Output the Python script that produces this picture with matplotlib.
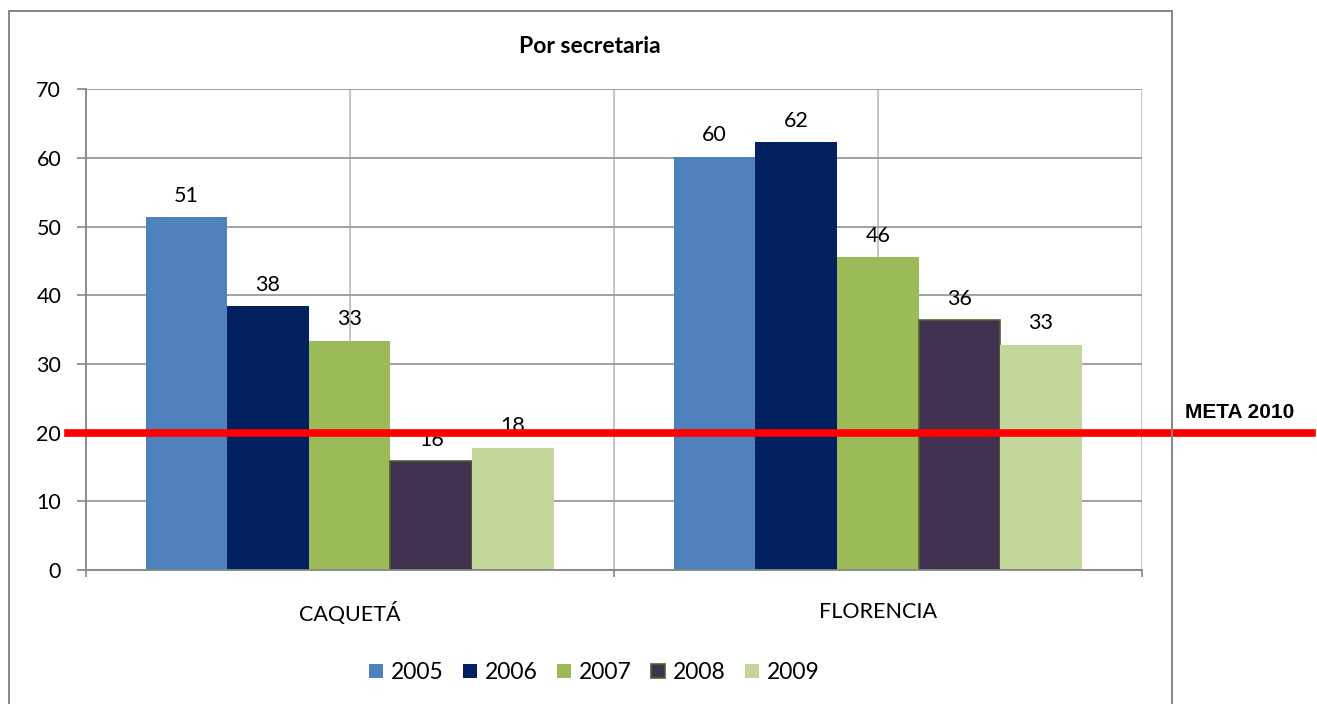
import matplotlib.pyplot as plt
import numpy as np
from matplotlib.patches import Rectangle
from matplotlib.transforms import blended_transform_factory


categories = ["CAQUETÁ", "FLORENCIA"]
years = ["2005", "2006", "2007", "2008", "2009"]
v2005 = [51.4, 60.2]
v2006 = [38.4, 62.3]
v2007 = [33.4, 45.6]
v2008 = [15.9, 36.4]
v2009 = [17.8, 32.8]
meta_2010 = 20
y_ticks = [0, 10, 20, 30, 40, 50, 60, 70]

series = [v2005, v2006, v2007, v2008, v2009]
COLORS = ("#4f81bd", "#002060", "#9bbb59", "#403151", "#c3d69b")
EDGES = ("none", "none", "none", "#4f6228", "none")
GRAY = "#868686"

plt.rcParams["font.family"] = ["Lato", "DejaVu Sans"]

fig = plt.figure(figsize=(13.17, 7.04), dpi=100)
ax = fig.add_axes([85.5 / 1317, 134 / 704, 1056.5 / 1317, 480.7 / 704])

x = np.arange(len(categories))
width = 0.1545
for i, (vals, color, edge) in enumerate(zip(series, COLORS, EDGES)):
    pos = x + (i - 2) * width
    ax.bar(pos, vals, width, color=color, edgecolor=edge,
           linewidth=1.2 if edge != "none" else 0, label=years[i], zorder=3)
    for px, v in zip(pos, vals):
        ax.annotate(f"{v:.0f}", (px, v), xytext=(0, 11), textcoords="offset points",
                    ha="center", va="baseline", fontsize=15.5, zorder=4)

ax.set_xlim(-0.5, len(categories) - 0.5)
ax.set_ylim(0, 70)
ax.set_yticks(y_ticks)
ax.set_xticks(x, categories)
ax.set_xticks(np.arange(len(categories) + 1) - 0.5, minor=True)

for side in ("top", "right"):
    ax.spines[side].set_visible(False)
for side in ("left", "bottom"):
    ax.spines[side].set_color(GRAY)
    ax.spines[side].set_linewidth(1.3)
    ax.spines[side].set_zorder(5)

ax.tick_params(axis="y", length=6.5, width=1.2, color=GRAY, pad=11, labelsize=15.5)
ax.tick_params(axis="x", which="major", length=0, pad=23, labelsize=15.5)
ax.tick_params(axis="x", which="minor", length=5, width=1.2, color=GRAY)
ax.yaxis.grid(True, color="#9a9a9a", linewidth=1.3, zorder=0)
ax.xaxis.grid(True, which="both", color="#c0c0c0", linewidth=1.3, zorder=0)
ax.set_axisbelow(True)

# meta line spans past the plot area, across the whole chart
trans = blended_transform_factory(fig.transFigure, ax.transData)
ax.plot([68 / 1317, 1312 / 1317], [meta_2010, meta_2010], color="#ff0000",
        linewidth=5.5, transform=trans, clip_on=False, zorder=6)
fig.text(1185 / 1317, (704 - 418) / 704, "META 2010", family="Liberation Sans",
         fontweight="bold", fontsize=15, ha="left", va="baseline")

fig.text(589.5 / 1317, (704 - 53) / 704, "Por secretaria", fontweight="bold",
         fontsize=16.5, ha="center", va="baseline")

fig.legend(loc="center", bbox_to_anchor=(594.5 / 1317, (704 - 672.5) / 704), ncol=5,
           frameon=False, fontsize=16.5, handlelength=0.6, handleheight=0.6,
           handletextpad=0.35, columnspacing=0.85, borderpad=0)

fig.patches.append(Rectangle((9 / 1317, -0.01), 1163 / 1317, 1.01 - 11 / 704,
                             transform=fig.transFigure, fill=False, edgecolor=GRAY,
                             linewidth=1.4))

fig.savefig("out.png", dpi=100)
